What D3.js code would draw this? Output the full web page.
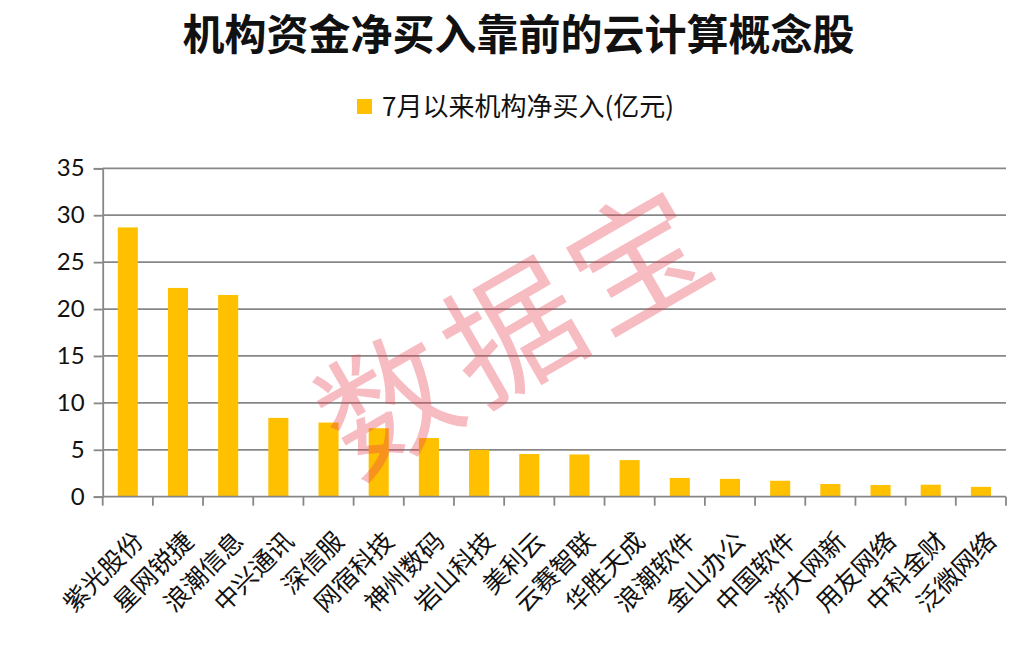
<!DOCTYPE html>
<html>
<head>
<meta charset="utf-8">
<script src="https://cdn.jsdelivr.net/npm/d3@7"></script>
<style>
  html, body { margin: 0; padding: 0; background: #fff; }
  svg { display: block; }
</style>
</head>
<body>
<script>
// chart data
const categories = ["紫光股份", "星网锐捷", "浪潮信息", "中兴通讯", "深信服", "网宿科技",
  "神州数码", "岩山科技", "美利云", "云赛智联", "华胜天成", "浪潮软件",
  "金山办公", "中国软件", "浙大网新", "用友网络", "中科金财", "泛微网络"];
const netBuy = [28.7, 22.25, 21.5, 8.4, 7.9, 7.3, 6.25, 5.0, 4.55, 4.5, 3.9, 2.0,
  1.9, 1.7, 1.35, 1.25, 1.28, 1.05];
const yTicks = [0, 5, 10, 15, 20, 25, 30, 35];
const titleText = "机构资金净买入靠前的云计算概念股";
const seriesName = "7月以来机构净买入(亿元)";
const watermark = "数据宝";

const width = 1022;
const height = 660;
const plotLeft = 102.7, plotRight = 1006, plotTop = 168.3, plotBottom = 496.7;
const barColor = "#FFC000";
const gridColor = "#878787";
const cjk = "'Noto Sans CJK SC', 'Noto Sans', sans-serif";

const svg = d3.select("body").append("svg")
  .attr("width", width)
  .attr("height", height);

const x = d3.scaleBand()
  .domain(categories)
  .range([plotLeft, plotRight])
  .paddingInner(0.6)
  .paddingOuter(0.3);

const y = d3.scaleLinear()
  .domain([0, 35])
  .range([plotBottom, plotTop]);

// title
svg.append("text")
  .attr("x", 518.5)
  .attr("y", 50)
  .attr("text-anchor", "middle")
  .attr("font-family", cjk)
  .attr("font-weight", "bold")
  .attr("font-size", 42)
  .attr("fill", "#111")
  .text(titleText);

// legend
const legend = svg.append("g").attr("transform", "translate(357,99)");
legend.append("rect")
  .attr("width", 15)
  .attr("height", 15)
  .attr("fill", barColor);
legend.append("text")
  .attr("x", 25)
  .attr("y", 7.5)
  .attr("dy", "0.36em")
  .attr("font-family", cjk)
  .attr("font-size", 26)
  .attr("fill", "#111")
  .text(seriesName);

// gridlines
svg.append("g")
  .selectAll("line")
  .data(yTicks.filter(d => d > 0))
  .join("line")
  .attr("x1", plotLeft)
  .attr("x2", plotRight)
  .attr("y1", d => y(d))
  .attr("y2", d => y(d))
  .attr("stroke", gridColor)
  .attr("stroke-width", 1.8);

// bars
svg.append("g")
  .selectAll("rect")
  .data(categories)
  .join("rect")
  .attr("x", d => x(d))
  .attr("width", x.bandwidth())
  .attr("y", (d, i) => y(netBuy[i]))
  .attr("height", (d, i) => y(0) - y(netBuy[i]))
  .attr("fill", barColor);

// y axis
const yAxis = svg.append("g")
  .attr("transform", `translate(${plotLeft},0)`)
  .call(d3.axisLeft(y).tickValues(yTicks).tickSize(9).tickPadding(9));
yAxis.select(".domain").attr("stroke", gridColor).attr("stroke-width", 1.8);
yAxis.selectAll(".tick line").attr("stroke", gridColor).attr("stroke-width", 1.8);
yAxis.selectAll(".tick text")
  .attr("font-family", "Lato, 'Open Sans', sans-serif")
  .attr("font-size", 24)
  .attr("fill", "#111");

// x axis line with ticks between categories
const step = x.step();
const boundaries = d3.range(categories.length + 1).map(i => plotLeft + i * step);
svg.append("line")
  .attr("x1", plotLeft)
  .attr("x2", plotRight)
  .attr("y1", plotBottom)
  .attr("y2", plotBottom)
  .attr("stroke", gridColor)
  .attr("stroke-width", 1.8);
svg.append("g")
  .selectAll("line")
  .data(boundaries)
  .join("line")
  .attr("x1", d => d)
  .attr("x2", d => d)
  .attr("y1", plotBottom)
  .attr("y2", plotBottom + 9)
  .attr("stroke", gridColor)
  .attr("stroke-width", 1.8);

// rotated category labels
svg.append("g")
  .selectAll("text")
  .data(categories)
  .join("text")
  .attr("transform", d => `translate(${x(d) + x.bandwidth() / 2 + 2},${plotBottom + 31}) rotate(-45)`)
  .attr("text-anchor", "end")
  .attr("dy", "0.85em")
  .attr("font-family", cjk)
  .attr("font-size", 25)
  .attr("fill", "#111")
  .text(d => d);

// watermark stamp
svg.append("text")
  .attr("transform", "translate(513,322) rotate(-30)")
  .attr("text-anchor", "middle")
  .attr("dominant-baseline", "central")
  .attr("font-family", cjk)
  .attr("font-size", 134)
  .attr("letter-spacing", 10)
  .attr("fill", "#E8404F")
  .attr("fill-opacity", 0.35)
  .text(watermark);
</script>
</body>
</html>
